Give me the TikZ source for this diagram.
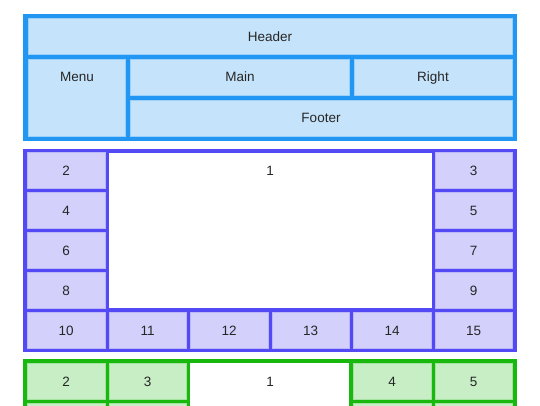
\documentclass[tikz,border=0pt]{standalone}
\usepackage{fontspec}
\setmainfont{Liberation Sans}
\definecolor{hdrblue}{RGB}{33,150,243}
\definecolor{hdrfill}{RGB}{197,227,250}
\definecolor{gridpurple}{RGB}{84,74,245}
\definecolor{gridfill}{RGB}{211,209,252}
\definecolor{gridgreen}{RGB}{24,184,14}
\definecolor{greenfill}{RGB}{199,238,196}
\tikzset{
  label text/.style={font=\fontsize{13.5}{15}\selectfont, text=black!85, inner sep=0pt,
    text height=9.8pt, text depth=0pt},
  bluecell/.style={fill=hdrfill, draw=hdrblue!45, line width=0.6pt},
  purplecell/.style={fill=gridfill, draw=gridpurple!40, line width=0.6pt},
  greencell/.style={fill=greenfill, draw=gridgreen!40, line width=0.6pt}
}

\begin{document}
\begin{tikzpicture}[x=1pt, y=-1pt]
    \useasboundingbox (0,0) rectangle (540,405);
    % Top grid: named areas.
        \fill[hdrblue] (23,14) rectangle (517,141);
        \draw[bluecell] (28.5,18.5) rectangle (512,54.5);
        \draw[bluecell] (28.5,59) rectangle (125.5,136.5);
        \draw[bluecell] (130,59) rectangle (349.5,95);
        \draw[bluecell] (354,59) rectangle (512,95);
        \draw[bluecell] (130,100) rectangle (512,136.5);
            \node[label text] (header) at (270,36.5) {Header};
            \node[label text] (menu) at (77,77) {Menu};
            \node[label text] (main) at (240,77) {Main};
            \node[label text] (right) at (433,77) {Right};
            \node[label text] (footer) at (321,118) {Footer};
    % Middle grid: item 1 spans four columns and four rows.
        \fill[gridpurple] (23,148.5) rectangle (517,352);
        \fill[white] (109.3,152.7) rectangle (431.8,308.4);
        \foreach \r/\a/\b in {1/2/3, 2/4/5, 3/6/7, 4/8/9} {
            \draw[purplecell] (27.3,112.7+40*\r) rectangle ++(77.8,35.7);
            \draw[purplecell] (435,112.7+40*\r) rectangle ++(77.4,35.7);
            \node[label text] (cell\a) at (66.2,130.5+40*\r) {\a};
            \node[label text] (cell\b) at (473.7,130.5+40*\r) {\b};
        }
        \foreach \c/\n in {0/10, 1/11, 2/12, 3/13, 4/14, 5/15} {
            \draw[purplecell] (27.3+81.5*\c,312.4) rectangle ++(77.6,35.8);
            \node[label text] (cell\n) at (66.2+81.5*\c,330.3) {\n};
        }
            \node[label text] (cell1) at (270,170.5) {1};
    % Bottom grid: item 1 spans the two middle columns.
        \fill[gridgreen] (23,359.3) rectangle (517,460);
        \fill[white] (190,363.3) rectangle (349,460);
        \foreach \c/\n in {0/2, 1/3, 4/4, 5/5} {
            \draw[greencell] (27.3+81.5*\c,363.3) rectangle ++(77.6,35.7);
            \draw[greencell] (27.3+81.5*\c,403.3) rectangle ++(77.6,35.7);
            \node[label text] (green\n) at (66.2+81.5*\c,381.2) {\n};
        }
            \node[label text] (green1) at (270,381.2) {1};
\end{tikzpicture}
\end{document}
